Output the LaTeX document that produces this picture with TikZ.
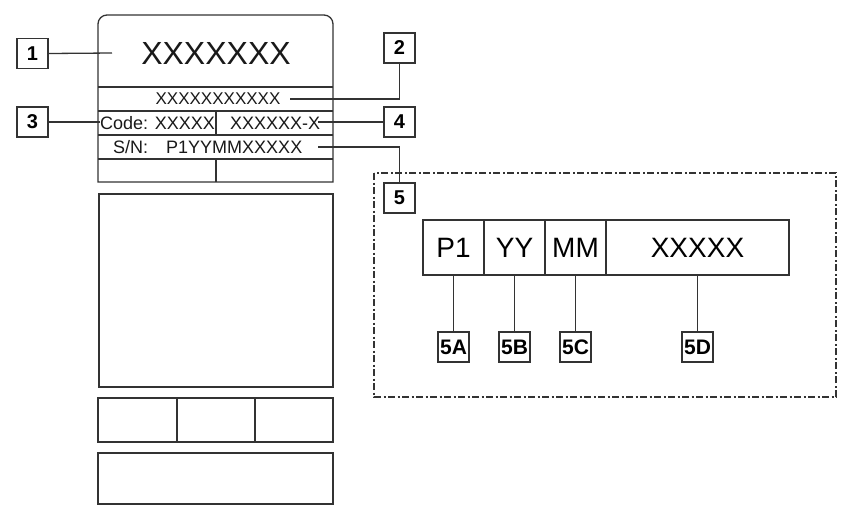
\documentclass[tikz,border=0pt]{standalone}
\usepackage{fontspec}
\setmainfont{Liberation Sans}
\begin{document}
\begin{tikzpicture}[x=1pt,y=-1pt,
  ln/.style={draw=black!80,line width=1.3pt},
  callout/.style={ln,minimum width=31pt,minimum height=30pt,inner sep=0pt,font=\fontsize{20}{20}\selectfont\bfseries},
  subcallout/.style={callout,font=\fontsize{21}{21}\selectfont\bfseries},
  txt/.style={inner sep=0pt,text=black!90},
  cell/.style={ln,minimum height=55pt,inner sep=0pt,font=\fontsize{28}{28}\selectfont}
]
\useasboundingbox (0,0) rectangle (848,512);
% label outline
\draw[ln] (98,182) -- (98,24) arc(180:270:9) -- (324,15) arc(270:360:9) -- (333,182) -- cycle;
\draw[ln] (98,87) -- (333,87);
\draw[ln] (98,111) -- (333,111);
\draw[ln] (98,135) -- (333,135);
\draw[ln] (98,159) -- (333,159);
\draw[ln] (216,111) -- (216,135);
\draw[ln] (216,159) -- (216,182);
% lower blocks
\draw[ln] (99,194) rectangle (333,387);
\draw[ln] (98,398) rectangle (333,442);
\draw[ln] (177,398) -- (177,442);
\draw[ln] (255,398) -- (255,442);
\draw[ln] (98,453) rectangle (333,504);
% texts
\node[txt,font=\fontsize{32}{32}\selectfont] (t1) at (216,53) {XXXXXXX};
\node[txt,font=\fontsize{17}{17}\selectfont] (t2) at (218,99) {XXXXXXXXXXX};
\node[txt,font=\fontsize{18}{18}\selectfont,anchor=west] (t3) at (100,123) {Code: XXXXX};
\node[txt,font=\fontsize{18}{18}\selectfont,anchor=west] (t4) at (230,123) {XXXXXX-X};
\node[txt,font=\fontsize{18}{18}\selectfont,anchor=west] (t5) at (113,147) {S/N:\hspace{1em}P1YYMMXXXXX};
% callouts
\node[callout] (c1) at (32.5,53.5) {1};
\node[callout] (c2) at (399.5,48) {2};
\node[callout] (c3) at (32.5,122) {3};
\node[callout] (c4) at (399.5,122) {4};
\node[callout] (c5) at (399.5,198) {5};
\coordinate (e1) at (112,53);
\coordinate (e2) at (290,99);
\coordinate (e3) at (100,122);
\coordinate (e4) at (318,122);
\coordinate (e5) at (318,147);
\draw[ln] (c1.east) -- (e1);
\draw[ln] (c2.south) |- (e2);
\draw[ln] (c3.east) -- (e3);
\draw[ln] (c4.west) -- (e4);
\draw[ln] (e5) -| (c5.north);
% detail frame
\draw[ln,dash pattern=on 7pt off 2.5pt on 2pt off 2.5pt] (374,173) rectangle (836,397);
\node[cell,minimum width=61pt] (p1) at (453.5,247.5) {P1};
\node[cell,minimum width=61pt] (yy) at (514.5,247.5) {YY};
\node[cell,minimum width=61pt] (mm) at (575.5,247.5) {MM};
\node[cell,minimum width=183pt] (xx) at (697.5,247.5) {XXXXX};
\node[subcallout] (a) at (453.5,347) {5A};
\node[subcallout] (b) at (514.5,347) {5B};
\node[subcallout] (c) at (575.5,347) {5C};
\node[subcallout] (d) at (697.5,347) {5D};
\draw[ln] (p1.south) -- (a.north);
\draw[ln] (yy.south) -- (b.north);
\draw[ln] (mm.south) -- (c.north);
\draw[ln] (xx.south) -- (d.north);
\end{tikzpicture}
\end{document}
